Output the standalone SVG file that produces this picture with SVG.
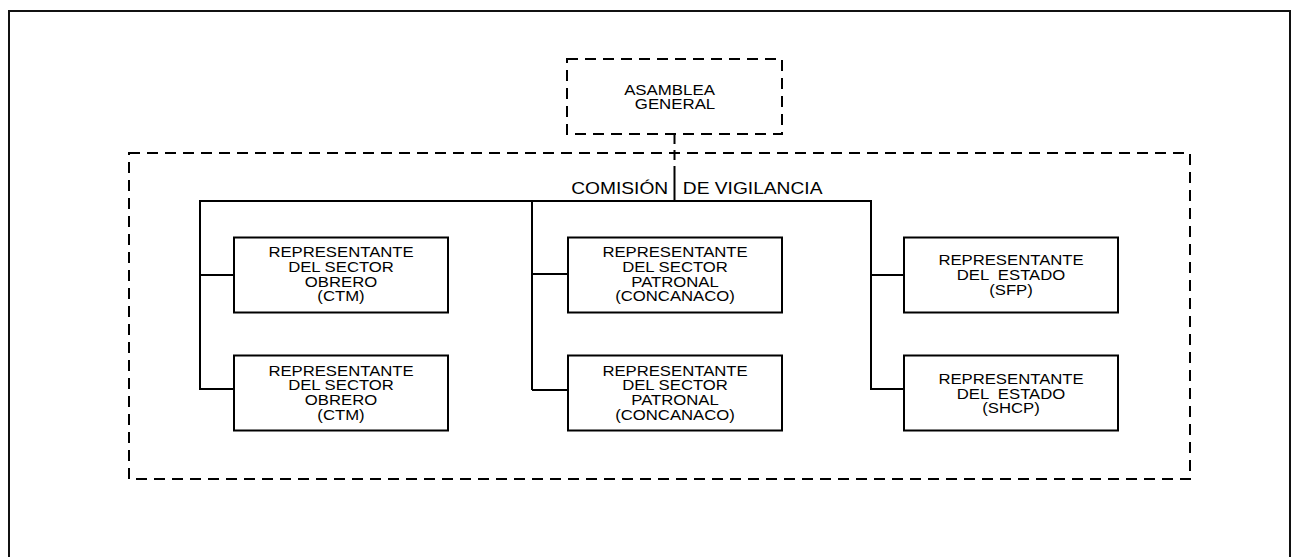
<svg xmlns="http://www.w3.org/2000/svg" width="1293" height="557" viewBox="0 0 1293 557">
<style>
.frame{fill:none;stroke:#111;stroke-width:2}
.box{fill:#fff;stroke:#000;stroke-width:2}
.dbox{fill:none;stroke:#000;stroke-width:2;stroke-dasharray:11 7}
.ln{fill:none;stroke:#000;stroke-width:2}
.dln{fill:none;stroke:#000;stroke-width:2;stroke-dasharray:10 6}
.t{font-family:"Liberation Sans",Arial,sans-serif;font-size:14.4px;fill:#000;text-anchor:middle}
.tt{font-family:"Liberation Sans",Arial,sans-serif;font-size:16px;fill:#000}
</style>
<rect width="1293" height="557" fill="#fff"/>
<rect class="frame" x="9" y="11" width="1281" height="560"/>
<g id="comision">
<rect class="dbox" x="129" y="153" width="1061" height="326"/>
<text class="tt" transform="translate(0,193.5) scale(1.2,1)"><tspan x="476">COMISIÓN</tspan><tspan x="569">DE VIGILANCIA</tspan></text>
</g>
<g id="connectors">
<path class="dln" d="M674.5 134 V175"/>
<path class="ln" d="M674.5 175 V201"/>
<path class="ln" d="M200 390 V201 H871 V390"/>
<path class="ln" d="M532 201 V390"/>
<path class="ln" d="M200 275 H234 M200 389 H234"/>
<path class="ln" d="M532 274 H568 M532 390 H568"/>
<path class="ln" d="M871 275 H904 M871 389 H904"/>
</g>
<g id="asamblea">
<rect class="dbox" x="567" y="59" width="215" height="75"/>
<text class="t" transform="translate(669.5,0) scale(1.17,1)"><tspan x="0" y="95.3">ASAMBLEA</tspan></text>
<text class="t" transform="translate(675,0) scale(1.17,1)"><tspan x="0" y="109">GENERAL</tspan></text>
</g>
<g id="obrero1">
<rect class="box" x="234" y="237.5" width="214" height="75"/>
<text class="t" transform="translate(341,0) scale(1.16,1)"><tspan x="0" y="257.5">REPRESENTANTE</tspan><tspan x="0" y="272">DEL SECTOR</tspan><tspan x="0" y="286.6">OBRERO</tspan><tspan x="0" y="301.2">(CTM)</tspan></text>
</g>
<g id="obrero2">
<rect class="box" x="234" y="355.5" width="214" height="75"/>
<text class="t" transform="translate(341,0) scale(1.16,1)"><tspan x="0" y="376">REPRESENTANTE</tspan><tspan x="0" y="390.5">DEL SECTOR</tspan><tspan x="0" y="405.1">OBRERO</tspan><tspan x="0" y="419.7">(CTM)</tspan></text>
</g>
<g id="patronal1">
<rect class="box" x="568" y="237.5" width="214" height="75"/>
<text class="t" transform="translate(675,0) scale(1.16,1)"><tspan x="0" y="257.5">REPRESENTANTE</tspan><tspan x="0" y="272">DEL SECTOR</tspan><tspan x="0" y="286.6">PATRONAL</tspan><tspan x="0" y="301.2">(CONCANACO)</tspan></text>
</g>
<g id="patronal2">
<rect class="box" x="568" y="355.5" width="214" height="75"/>
<text class="t" transform="translate(675,0) scale(1.16,1)"><tspan x="0" y="376">REPRESENTANTE</tspan><tspan x="0" y="390.5">DEL SECTOR</tspan><tspan x="0" y="405.1">PATRONAL</tspan><tspan x="0" y="419.7">(CONCANACO)</tspan></text>
</g>
<g id="estado1">
<rect class="box" x="904" y="237.5" width="214" height="75"/>
<text class="t" xml:space="preserve" transform="translate(1011,0) scale(1.16,1)"><tspan x="0" y="265.5">REPRESENTANTE</tspan><tspan x="0" y="280.1">DEL  ESTADO</tspan><tspan x="0" y="294.7">(SFP)</tspan></text>
</g>
<g id="estado2">
<rect class="box" x="904" y="355.5" width="214" height="75"/>
<text class="t" xml:space="preserve" transform="translate(1011,0) scale(1.16,1)"><tspan x="0" y="384">REPRESENTANTE</tspan><tspan x="0" y="398.6">DEL  ESTADO</tspan><tspan x="0" y="413.2">(SHCP)</tspan></text>
</g>
</svg>
